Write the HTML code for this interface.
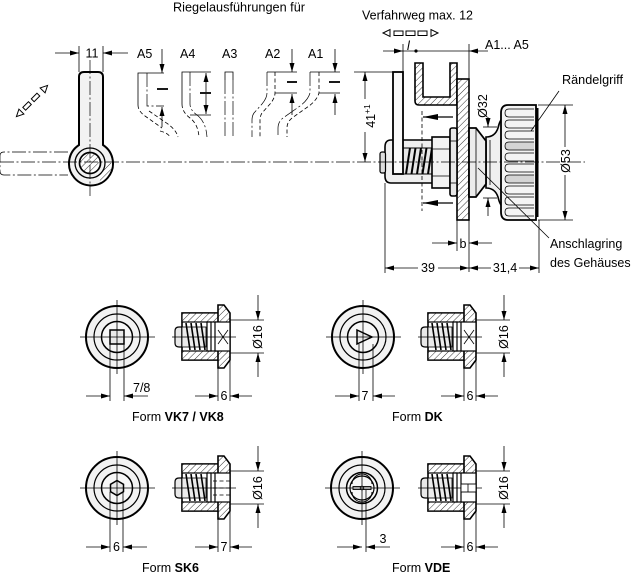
<!DOCTYPE html>
<html><head><meta charset="utf-8">
<style>
html,body{margin:0;padding:0;background:#fff;}
svg{display:block;}
text{font-family:"Liberation Sans",Arial,sans-serif;font-size:12.5px;fill:#000;}
.t{stroke:#000;stroke-width:0.8;fill:none;}
.m{stroke:#000;stroke-width:1.2;fill:none;}
.cl{stroke:#000;stroke-width:0.7;fill:none;stroke-dasharray:14 2.5 2 2.5;}
.hd{stroke:#000;stroke-width:0.8;fill:none;stroke-dasharray:4 2.5;}
.th{stroke:#000;stroke-width:1.8;}
</style></head><body>
<svg width="634" height="576" viewBox="0 0 634 576" xmlns="http://www.w3.org/2000/svg">
<defs>
<marker id="a" viewBox="0 0 9 5" markerWidth="9" markerHeight="5" refX="9" refY="2.5" orient="auto" markerUnits="userSpaceOnUse"><path d="M0,0 L9,2.5 L0,5Z" fill="#000"/></marker>
<marker id="b" viewBox="0 0 15 6" markerWidth="15" markerHeight="6" refX="15" refY="3" orient="auto" markerUnits="userSpaceOnUse"><path d="M0,0 L15,3 L0,6Z" fill="#000"/></marker>
<pattern id="h" width="4.5" height="4.5" patternUnits="userSpaceOnUse" patternTransform="rotate(45)"><rect width="4.5" height="4.5" fill="#fff"/><line x1="0" y1="0" x2="0" y2="4.5" stroke="#000" stroke-width="0.8"/></pattern>

<g id="sv">
 <path d="M190,327 H179 Q175,327 175,331 V343 Q175,347 179,347 H190" fill="#e8e8e8" stroke="#000" stroke-width="1.2"/>
 <rect x="182" y="313" width="38" height="47" fill="#fff" stroke="#000" stroke-width="1.6"/>
 <rect x="182" y="313" width="38" height="9" fill="url(#h)" stroke="#000" stroke-width="1.2"/>
 <rect x="182" y="351" width="38" height="9" fill="url(#h)" stroke="#000" stroke-width="1.2"/>
 <rect x="182" y="327" width="24" height="20" fill="#ececec" stroke="#000" stroke-width="0.8"/>
 <g stroke="#000" stroke-width="1.6" fill="none">
  <path d="M186,323 L190,350"/><path d="M191,323 L195,350"/><path d="M196,323 L200,350"/><path d="M201,323 L205,350"/>
 </g>
 <rect x="207" y="322" width="4" height="29" fill="#fff" stroke="#000" stroke-width="1.2"/>
 <path d="M218,305 H224 L230,313 V360 L224,368 H218 Z" fill="url(#h)" stroke="#000" stroke-width="1.6"/>
 <rect x="215" y="322" width="15" height="29" fill="#fff" stroke="#000" stroke-width="1.2"/>
 <line class="t" x1="172" y1="337" x2="236" y2="337"/>
 <line class="t" x1="230" y1="320" x2="264" y2="320"/>
 <line class="t" x1="230" y1="353" x2="264" y2="353"/>
 <line class="t" x1="258" y1="295" x2="258" y2="320" marker-end="url(#a)"/>
 <line class="t" x1="258" y1="377" x2="258" y2="353" marker-end="url(#a)"/>
 <text transform="translate(262,337) rotate(-90)" text-anchor="middle">Ø16</text>
 <line class="t" x1="218" y1="368" x2="218" y2="401"/>
 <line class="t" x1="230" y1="360" x2="230" y2="401"/>
 <line class="t" x1="195" y1="396" x2="218" y2="396" marker-end="url(#a)"/>
 <line class="t" x1="252" y1="396" x2="230" y2="396" marker-end="url(#a)"/>
</g>
<g id="fv">
 <circle cx="117" cy="337" r="31" fill="#f2f2f2" stroke="#000" stroke-width="2"/>
 <circle cx="117" cy="337" r="23" fill="none" stroke="#000" stroke-width="1.2"/>
 <circle cx="117" cy="337" r="15.5" fill="#f7f7f7" stroke="#000" stroke-width="1.5"/>
</g>
</defs>

<!-- ===== top left lever ===== -->
<text x="173" y="11.5" textLength="132" lengthAdjust="spacingAndGlyphs">Riegelausführungen für</text>
<line class="t" x1="79" y1="46" x2="79" y2="72"/>
<line class="t" x1="103" y1="46" x2="103" y2="72"/>
<line class="t" x1="55" y1="53" x2="79" y2="53" marker-end="url(#a)"/>
<line class="t" x1="128" y1="53" x2="103" y2="53" marker-end="url(#a)"/>
<text x="92" y="57.5" text-anchor="middle">11</text>

<path class="cl" d="M68,152 H4 Q0,152 0,156 V171 Q0,175 4,175 H68"/>
<path d="M79,145 V77 Q79,72 84,72 H98 Q103,72 103,77 V145 A22,22 0 1 1 79,145 Z" fill="#f2f2f2" stroke="#000" stroke-width="2"/>
<path d="M105,163 A15,15 0 0 1 97,176 L101,182 A22,22 0 0 0 112,163 Z" fill="url(#h)" stroke="none"/>
<circle cx="90" cy="163" r="15" fill="none" stroke="#000" stroke-width="1.3"/>
<circle cx="90" cy="163" r="10.5" fill="url(#h)" stroke="#000" stroke-width="1.7"/>
<line class="cl" x1="90" y1="60" x2="90" y2="196"/>

<g transform="translate(32,101) rotate(-45)" stroke="#000" stroke-width="1" fill="none">
 <path d="M-22,0 L-15,-3.5 L-15,3.5Z"/>
 <rect x="-11" y="-2" width="8" height="4"/>
 <rect x="1" y="-2" width="8" height="4"/>
 <path d="M22,0 L15,-3.5 L15,3.5Z"/>
</g>

<!-- ===== Riegel variants ===== -->
<text x="137" y="58">A5</text>
<line class="t" x1="162" y1="49" x2="162" y2="73" marker-end="url(#a)"/>
<path class="t" d="M164,73 H138 V105"/>
<path class="hd" d="M138,105 Q138,111 145,116 L162,128"/>
<path class="cl" d="M147,73 V106 H164"/>
<path class="hd" d="M149,111 L165,122 Q176,129 178,137"/>
<path class="hd" d="M160,131 Q168,133 170,137"/>
<line class="t" x1="162" y1="127" x2="162" y2="107" marker-end="url(#a)"/>
<line class="th" x1="157" y1="89" x2="168" y2="89"/>

<text x="180" y="58">A4</text>
<path class="t" d="M211,72 H182 V104"/>
<path class="hd" d="M182,104 Q182,112 190,118 Q198,124 199,137"/>
<path class="cl" d="M190,72 V104 Q190,110 197,115 Q206,122 207,137"/>
<path class="t" d="M190,115 H211"/>
<line class="t" x1="206" y1="92" x2="206" y2="73" marker-end="url(#a)"/>
<line class="t" x1="206" y1="94" x2="206" y2="114" marker-end="url(#a)"/>
<line class="th" x1="200" y1="93" x2="211" y2="93"/>

<text x="222" y="58">A3</text>
<path class="t" d="M225,80 V72 H233 V80"/>
<line class="cl" x1="225" y1="80" x2="225" y2="137"/>
<line class="cl" x1="233" y1="80" x2="233" y2="137"/>

<text x="265" y="58">A2</text>
<line class="t" x1="292" y1="49" x2="292" y2="72" marker-end="url(#a)"/>
<path class="t" d="M297,72 H267"/>
<path class="cl" d="M267,72 V93 Q267,98 262,104 L254,113 Q252,116 252,120 V137"/>
<path class="hd" d="M275,72 V93 Q275,98 270,104 L262,113 Q260,116 260,120 V137"/>
<path class="t" d="M275,93 H297"/>
<line class="th" x1="287" y1="82" x2="297" y2="82"/>
<line class="t" x1="292" y1="115" x2="292" y2="94" marker-end="url(#a)"/>

<text x="308" y="58">A1</text>
<line class="t" x1="335" y1="49" x2="335" y2="72" marker-end="url(#a)"/>
<path class="t" d="M340,72 H310"/>
<path class="cl" d="M310,72 V93 Q308,100 300,106 L283,118 Q278,122 278,128 V137"/>
<path class="hd" d="M319,72 V93 Q317,100 309,106 L292,118 Q287,122 287,128 V137"/>
<path class="t" d="M319,93 H340"/>
<line class="th" x1="329" y1="82" x2="340" y2="82"/>
<line class="t" x1="335" y1="115" x2="335" y2="94" marker-end="url(#a)"/>

<!-- ===== main drawing ===== -->
<text x="362" y="19.5" textLength="111" lengthAdjust="spacingAndGlyphs">Verfahrweg max. 12</text>
<g stroke="#000" stroke-width="1" fill="none">
<path d="M383,33 L390,29.5 L390,36.5Z"/>
<rect x="394" y="31" width="9" height="4.5"/>
<rect x="406" y="31" width="9" height="4.5"/>
<rect x="418" y="31" width="9" height="4.5"/>
<path d="M438,33 L431,29.5 L431,36.5Z"/>
</g>
<text x="407" y="50" font-style="italic">l</text>
<circle cx="416" cy="51" r="1.6" fill="#000"/>
<line class="t" x1="383" y1="51" x2="403" y2="51" marker-end="url(#a)"/>
<line class="t" x1="403" y1="51" x2="469" y2="51"/>
<line class="t" x1="488" y1="51" x2="469" y2="51" marker-end="url(#a)"/>
<text x="485" y="49">A1... A5</text>
<line class="t" x1="403" y1="44" x2="403" y2="72"/>
<line class="t" x1="469" y1="44" x2="469" y2="272"/>

<line class="t" x1="354" y1="72" x2="393" y2="72"/>
<line class="t" x1="365" y1="99" x2="365" y2="72" marker-end="url(#a)"/>
<line class="t" x1="365" y1="132" x2="365" y2="162" marker-end="url(#a)"/>
<text transform="translate(375,116) rotate(-90)" text-anchor="middle">41<tspan font-size="8.5" dy="-5">+1</tspan></text>

<path d="M415,63 V101 Q415,105 419,105 H457 V63 H450 V97 H423 V63 Z" fill="url(#h)" stroke="#000" stroke-width="1.6"/>
<rect x="457" y="79" width="12" height="141" fill="url(#h)" stroke="#000" stroke-width="1.6"/>

<path d="M432,140 H391 Q385,140 385,147 V176 Q385,183 391,183 H432" fill="#efefef" stroke="#000" stroke-width="1.6"/>
<rect x="380" y="152" width="5.5" height="21" rx="2" fill="#ddd" stroke="#000" stroke-width="1.2"/>
<rect x="403" y="148" width="29" height="26" fill="#e6e6e6" stroke="#000" stroke-width="1"/>
<g stroke="#000" stroke-width="2" fill="none">
<path d="M406,174 L410,148"/><path d="M411.5,174 L415.5,148"/><path d="M417,174 L421,148"/><path d="M422.5,174 L426.5,148"/><path d="M428,174 L432,148"/>
</g>
<rect x="393" y="72" width="10" height="102" fill="#fafafa" stroke="#000" stroke-width="1.8"/>
<rect x="432" y="137" width="18" height="51" fill="#f3f3f3" stroke="#000" stroke-width="1.6"/>
<line class="t" x1="432" y1="149" x2="450" y2="149"/>
<line class="t" x1="432" y1="176" x2="450" y2="176"/>
<rect x="450" y="128" width="7" height="68" rx="2" fill="#e8e8e8" stroke="#000" stroke-width="1.6"/>
<line class="t" x1="450" y1="141" x2="457" y2="141"/>
<line class="t" x1="450" y1="183" x2="457" y2="183"/>

<line stroke="#000" stroke-width="1.2" x1="453" y1="117" x2="423" y2="117" marker-end="url(#b)"/>
<line stroke="#000" stroke-width="1.2" x1="453" y1="203" x2="423" y2="203" marker-end="url(#b)"/>
<line class="hd" stroke-width="1.4" x1="422" y1="111" x2="422" y2="211"/>

<!-- Anschlagring, neck, knob -->
<path d="M486,137 Q495,137 498,128 Q500,119 504,117 V208 Q500,206 498,197 Q495,188 486,188 Z" fill="#f0f0f0" stroke="#000" stroke-width="1.6"/>
<line class="t" x1="490" y1="140" x2="490" y2="185"/>
<polygon points="469,128 476,128 486,141 486,184 476,197 469,197" fill="#ececec" stroke="#000" stroke-width="1.8"/>
<line class="t" x1="476" y1="128" x2="476" y2="197"/>
<path d="M508,105 H536 V220 H508 Q501,220 501,212 V113 Q501,105 508,105 Z" fill="#f4f4f4" stroke="#000" stroke-width="1.8"/>
<g class="t">
<path d="M534,109 H509 Q505,109 505,113 Q505,117 509,117 H534"/>
<path d="M534,120 H509 Q505,120 505,124 Q505,128 509,128 H534"/>
<path d="M534,131 H509 Q505,131 505,135 Q505,139 509,139 H534"/>
<path d="M534,142 H509 Q505,142 505,146 Q505,150 509,150 H534" fill="#d4d4d4"/>
<path d="M534,153 H509 Q505,153 505,157 Q505,161 509,161 H534"/>
<path d="M534,164 H509 Q505,164 505,168 Q505,172 509,172 H534"/>
<path d="M534,175 H509 Q505,175 505,179 Q505,183 509,183 H534" fill="#d4d4d4"/>
<path d="M534,186 H509 Q505,186 505,190 Q505,194 509,194 H534"/>
<path d="M534,197 H509 Q505,197 505,201 Q505,205 509,205 H534"/>
<path d="M534,208 H509 Q505,208 505,212 Q505,216 509,216 H534"/>
</g>
<line x1="537" y1="108" x2="537" y2="217" stroke="#000" stroke-width="3"/>

<!-- Ø32 -->
<line class="t" x1="483" y1="127" x2="497" y2="127"/>
<line class="t" x1="483" y1="198" x2="497" y2="198"/>
<line class="t" x1="488" y1="117" x2="488" y2="127" marker-end="url(#a)"/>
<line class="t" x1="488" y1="216" x2="488" y2="198" marker-end="url(#a)"/>
<text transform="translate(487,106) rotate(-90)" text-anchor="middle">Ø32</text>

<!-- Ø53 -->
<line class="t" x1="538" y1="105" x2="573" y2="105"/>
<line class="t" x1="538" y1="220" x2="573" y2="220"/>
<line class="t" x1="565" y1="147" x2="565" y2="105" marker-end="url(#a)"/>
<line class="t" x1="565" y1="175" x2="565" y2="220" marker-end="url(#a)"/>
<text transform="translate(570,161) rotate(-90)" text-anchor="middle">Ø53</text>

<!-- labels -->
<text x="562" y="84" textLength="61" lengthAdjust="spacingAndGlyphs">Rändelgriff</text>
<line class="t" x1="559" y1="91" x2="531" y2="131"/>
<text x="550" y="248">Anschlagring</text>
<text x="550" y="267">des Gehäuses</text>
<line class="t" x1="549" y1="238" x2="478" y2="168"/>

<!-- b -->
<line class="t" x1="457" y1="220" x2="457" y2="251"/>
<line class="t" x1="432" y1="243" x2="457" y2="243" marker-end="url(#a)"/>
<line class="t" x1="492" y1="243" x2="469" y2="243" marker-end="url(#a)"/>
<text x="463" y="248" text-anchor="middle">b</text>

<!-- 39 / 31,4 -->
<line class="t" x1="385" y1="183" x2="385" y2="273"/>
<line class="t" x1="539" y1="220" x2="539" y2="273"/>
<line class="t" x1="418" y1="268" x2="385" y2="268" marker-end="url(#a)"/>
<line class="t" x1="438" y1="268" x2="469" y2="268" marker-end="url(#a)"/>
<text x="428" y="272" text-anchor="middle">39</text>
<line class="t" x1="491" y1="268" x2="469" y2="268" marker-end="url(#a)"/>
<line class="t" x1="519" y1="268" x2="539" y2="268" marker-end="url(#a)"/>
<text x="505" y="272" text-anchor="middle">31,4</text>

<!-- main center line -->
<line class="cl" x1="0" y1="162" x2="585" y2="162"/>

<!-- ===== Forms ===== -->
<!-- VK7 -->
<use href="#fv"/>
<rect x="110" y="330" width="14" height="14" fill="#e8e8e8" stroke="#000" stroke-width="1.5"/>
<line class="t" x1="80" y1="337" x2="155" y2="337"/>
<line class="t" x1="117" y1="300" x2="117" y2="374"/>
<line class="t" x1="110" y1="344" x2="110" y2="401"/>
<line class="t" x1="124" y1="344" x2="124" y2="401"/>
<line class="t" x1="86" y1="396" x2="110" y2="396" marker-end="url(#a)"/>
<line class="t" x1="148" y1="396" x2="124" y2="396" marker-end="url(#a)"/>
<text x="133" y="392">7/8</text>
<use href="#sv"/>
<path class="t" d="M218,330 L228,344 M228,330 L218,344"/>
<text x="224" y="400" text-anchor="middle">6</text>
<text x="132" y="421">Form <tspan font-weight="bold">VK7 / VK8</tspan></text>

<!-- DK -->
<use href="#fv" x="246"/>
<path d="M357,330 L357,344 L372,337 Z" fill="#e8e8e8" stroke="#000" stroke-width="1.5"/>
<line class="t" x1="326" y1="337" x2="401" y2="337"/>
<line class="t" x1="363" y1="300" x2="363" y2="374"/>
<line class="t" x1="359" y1="344" x2="359" y2="401"/>
<line class="t" x1="373" y1="344" x2="373" y2="401"/>
<line class="t" x1="335" y1="396" x2="359" y2="396" marker-end="url(#a)"/>
<line class="t" x1="395" y1="396" x2="373" y2="396" marker-end="url(#a)"/>
<text x="365" y="400" text-anchor="middle">7</text>
<use href="#sv" x="246"/>
<path class="t" d="M464,330 L474,344 M474,330 L464,344"/>
<text x="470" y="400" text-anchor="middle">6</text>
<text x="392" y="421">Form <tspan font-weight="bold">DK</tspan></text>

<!-- SK6 -->
<use href="#fv" y="151"/>
<polygon points="117,480.5 123.5,484.3 123.5,491.7 117,495.5 110.5,491.7 110.5,484.3" fill="#e8e8e8" stroke="#000" stroke-width="1.5"/>
<line class="t" x1="80" y1="488" x2="155" y2="488"/>
<line class="t" x1="117" y1="451" x2="117" y2="525"/>
<line class="t" x1="110" y1="492" x2="110" y2="552"/>
<line class="t" x1="123" y1="492" x2="123" y2="552"/>
<line class="t" x1="86" y1="547" x2="110" y2="547" marker-end="url(#a)"/>
<line class="t" x1="147" y1="547" x2="123" y2="547" marker-end="url(#a)"/>
<text x="116.5" y="551" text-anchor="middle">6</text>
<use href="#sv" y="151"/>
<path class="hd" d="M213,481 H230 M213,488 H230 M213,495 H230"/>
<text x="224" y="551" text-anchor="middle">7</text>
<text x="142" y="572">Form <tspan font-weight="bold">SK6</tspan></text>

<!-- VDE -->
<use href="#fv" x="245" y="151"/>
<circle cx="362" cy="488" r="12" fill="none" stroke="#000" stroke-width="1.2"/>
<path d="M352,484 A10,10 0 0 1 372,484 M352,492 A10,10 0 0 0 372,492" fill="none" stroke="#000" stroke-width="1"/>
<rect x="353" y="486.5" width="18" height="3" fill="#fff" stroke="#000" stroke-width="0.9"/>
<circle cx="362" cy="488" r="1.8" fill="#fff" stroke="#000" stroke-width="0.9"/>
<line class="t" x1="325" y1="488" x2="400" y2="488"/>
<line class="t" x1="362" y1="451" x2="362" y2="525"/>
<line class="t" x1="366" y1="490" x2="366" y2="552"/>
<line class="t" x1="337" y1="547" x2="362" y2="547" marker-end="url(#a)"/>
<line class="t" x1="390" y1="547" x2="366" y2="547" marker-end="url(#a)"/>
<text x="383" y="543" text-anchor="middle">3</text>
<use href="#sv" x="246" y="151"/>
<rect x="461" y="484" width="15" height="8" fill="#fff" stroke="#000" stroke-width="0.9"/>
<line class="t" x1="468" y1="484" x2="468" y2="492"/>
<text x="470" y="551" text-anchor="middle">6</text>
<text x="392" y="572">Form <tspan font-weight="bold">VDE</tspan></text>
</svg>
</body></html>
